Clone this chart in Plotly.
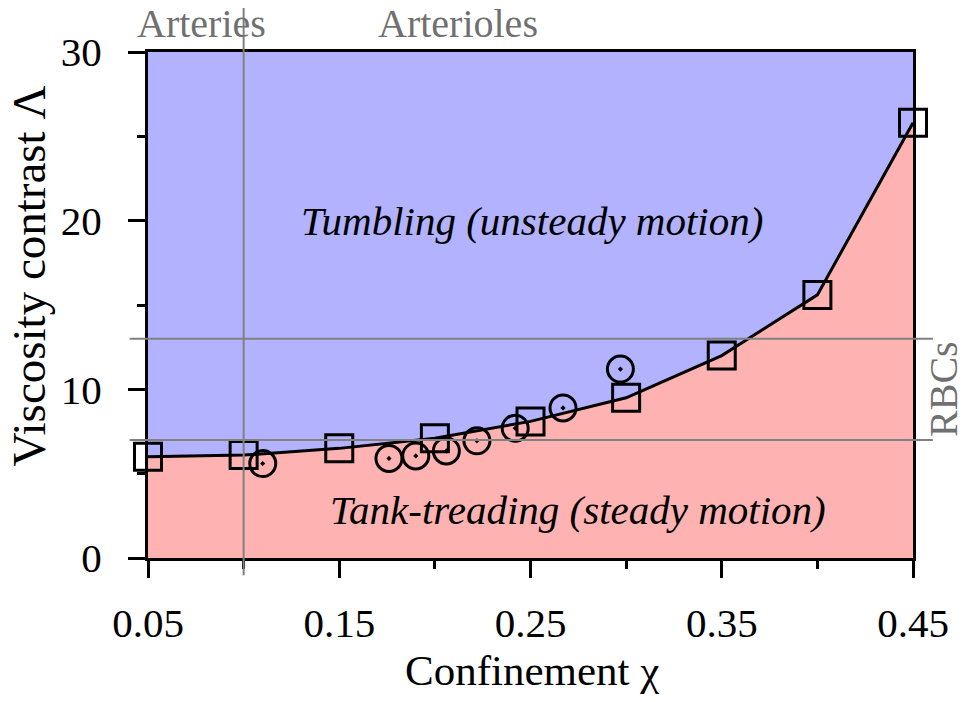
import plotly.graph_objects as go

# boundary between tumbling and tank-treading (squares)
chi_sq = [0.05, 0.10, 0.15, 0.20, 0.25, 0.30, 0.35, 0.40, 0.45]
lam_sq = [6.0, 6.1, 6.5, 7.1, 8.1, 9.5, 12.0, 15.6, 25.8]

# other simulation points (circles)
chi_ci = [0.110, 0.176, 0.190, 0.206, 0.222, 0.242, 0.267, 0.297]
lam_ci = [5.6, 5.9, 6.05, 6.35, 6.95, 7.7, 8.9, 11.2]

rbc_range = [7.0, 13.0]
arteriole_chi = 0.10

FONT = "Liberation Serif"
GREY = "#707070"

fig = go.Figure()

fig.add_trace(go.Scatter(x=chi_sq, y=lam_sq, mode="lines", fill="tozeroy",
                         fillcolor="#ffb2b2", line=dict(color="black", width=3),
                         showlegend=False, hoverinfo="skip"))
fig.add_trace(go.Scatter(x=chi_ci, y=lam_ci, mode="markers", cliponaxis=False,
                         marker=dict(symbol="circle-open-dot", size=26, color="black",
                                     line=dict(width=3, color="black")),
                         showlegend=False))
fig.add_trace(go.Scatter(x=chi_sq, y=lam_sq, mode="markers", cliponaxis=False,
                         marker=dict(symbol="square-open", size=27, color="black",
                                     line=dict(width=3, color="black")),
                         showlegend=False))

# reference lines
for v in rbc_range:
    fig.add_shape(type="line", xref="paper", yref="y", x0=-0.024, x1=1.026, y0=v, y1=v,
                  line=dict(color="#808080", width=2), layer="above")
fig.add_shape(type="line", xref="x", yref="paper", x0=arteriole_chi, x1=arteriole_chi,
              y0=-0.034, y1=1.11, line=dict(color="#808080", width=2), layer="above")

fig.add_annotation(x=0.078, y=1.056, xref="x", yref="paper", text="Arteries", showarrow=False,
                   font=dict(family=FONT, size=40, color=GREY), xanchor="center", yanchor="middle")
fig.add_annotation(x=0.212, y=1.056, xref="x", yref="paper", text="Arterioles", showarrow=False,
                   font=dict(family=FONT, size=40, color=GREY), xanchor="center", yanchor="middle")
fig.add_annotation(x=1.040, y=10, xref="paper", yref="y", text="RBCs", showarrow=False,
                   textangle=-90, xanchor="center", yanchor="middle",
                   font=dict(family=FONT, size=40, color=GREY))
fig.add_annotation(x=0.251, y=20.0, text="<i>Tumbling (unsteady motion)</i>", showarrow=False,
                   font=dict(family=FONT, size=41, color="black"))
fig.add_annotation(x=0.275, y=2.85, text="<i>Tank-treading (steady motion)</i>", showarrow=False,
                   font=dict(family=FONT, size=41, color="black"))

# axis titles
fig.add_annotation(x=0.502, y=-0.222, xref="paper", yref="paper", text="Confinement χ",
                   showarrow=False, xanchor="center", yanchor="middle",
                   font=dict(family=FONT, size=43))
fig.add_annotation(x=-0.155, y=0.557, xref="paper", yref="paper", text="Viscosity contrast Λ",
                   showarrow=False, textangle=-90, xanchor="center", yanchor="middle",
                   font=dict(family=FONT, size=47))

fig.update_xaxes(range=[0.05, 0.45], tick0=0.05, dtick=0.1, ticks="outside", ticklen=17,
                 tickwidth=3, tickcolor="black", showline=True, linewidth=3, linecolor="black",
                 mirror=True, showgrid=False, zeroline=False, tickformat=".2f", automargin=False,
                 minor=dict(tick0=0.1, dtick=0.1, ticks="outside", ticklen=8, tickwidth=3,
                            tickcolor="black", showgrid=False),
                 tickfont=dict(family=FONT, size=41), ticklabelstandoff=10)
fig.update_yaxes(range=[0, 30], dtick=10, ticks="outside", ticklen=17, tickwidth=3,
                 tickcolor="black", showline=True, linewidth=3, linecolor="black",
                 mirror=True, showgrid=False, zeroline=False, automargin=False,
                 minor=dict(dtick=5, ticks="outside", ticklen=8, tickwidth=3,
                            tickcolor="black", showgrid=False),
                 tickfont=dict(family=FONT, size=41), ticklabelstandoff=18)

# page body has an 8px margin on every side, so the figure is 16px smaller each way
fig.update_layout(width=951, height=686, margin=dict(l=140, r=46, t=44, b=136),
                  plot_bgcolor="#b2b2ff", paper_bgcolor="white",
                  font=dict(family=FONT, color="black"))

fig.write_html("out.html")
